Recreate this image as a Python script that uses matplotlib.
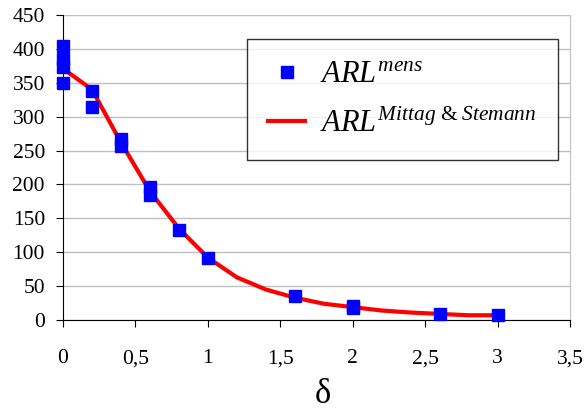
import matplotlib.pyplot as plt
import numpy as np

plt.rcParams['font.family'] = 'Liberation Serif'
plt.rcParams['mathtext.fontset'] = 'custom'
plt.rcParams['mathtext.rm'] = 'Liberation Serif'
plt.rcParams['mathtext.it'] = 'Liberation Serif:italic'

# simulated ARL values (markers)
mens_delta = [0, 0, 0, 0, 0.2, 0.2, 0.4, 0.4, 0.6, 0.6, 0.8, 1.0, 1.6, 2.0, 2.0, 2.6, 3.0]
mens_arl = [404, 385, 374, 350, 338, 315, 267, 256, 196, 184, 133, 92, 35, 21, 18, 9, 7]

# Mittag & Stemann curve
ms_delta = [0, 0.2, 0.4, 0.6, 0.8, 1.0, 1.2, 1.4, 1.6, 1.8, 2.0, 2.2, 2.4, 2.6, 2.8, 3.0]
ms_arl = [371, 340, 262, 190, 135, 92, 63, 45, 33, 24, 19, 14, 11, 9, 7, 7]

fig = plt.figure(figsize=(5.86, 4.17), dpi=100)
ax = fig.add_axes([0.1075, 0.2326, 0.8652, 0.7314])

ax.plot(ms_delta, ms_arl, color='#ff0000', lw=3, zorder=2,
        label=r'$ARL^{Mittag\ &\ Stemann}$')
ax.plot(mens_delta, mens_arl, 's', color='#0000ff', ms=9, ls='none', zorder=3,
        clip_on=False, label=r'$ARL^{mens}$')

ax.set_xlim(0, 3.5)
ax.set_ylim(0, 450)
ax.set_xticks(np.arange(0, 3.51, 0.5))
ax.set_xticklabels(['0', '0,5', '1', '1,5', '2', '2,5', '3', '3,5'])
ax.set_yticks(np.arange(0, 451, 50))
ax.yaxis.grid(True, color='#c0c0c0', lw=1)
ax.set_axisbelow(True)

ax.spines['top'].set_visible(False)
ax.spines['right'].set_color('#c0c0c0')
ax.spines['left'].set_color('black')
ax.spines['bottom'].set_color('black')
ax.tick_params(axis='both', labelsize=15.5, direction='out', length=5, color='black')
ax.tick_params(axis='x', pad=16)
ax.tick_params(axis='y', pad=8)

ax.set_xlabel('δ', fontsize=25)
ax.xaxis.set_label_coords(0.512, -0.19)

handles, labels = ax.get_legend_handles_labels()
leg = ax.legend(handles[::-1], labels[::-1], loc='upper left',
                bbox_to_anchor=(0.363, 0.921), fontsize=22, frameon=True,
                fancybox=False, edgecolor='black', handlelength=1.2,
                borderpad=0.7, labelspacing=0.65, handletextpad=0.5,
                borderaxespad=0)
leg.get_frame().set_linewidth(1)

fig.savefig('out.png', dpi=100)
